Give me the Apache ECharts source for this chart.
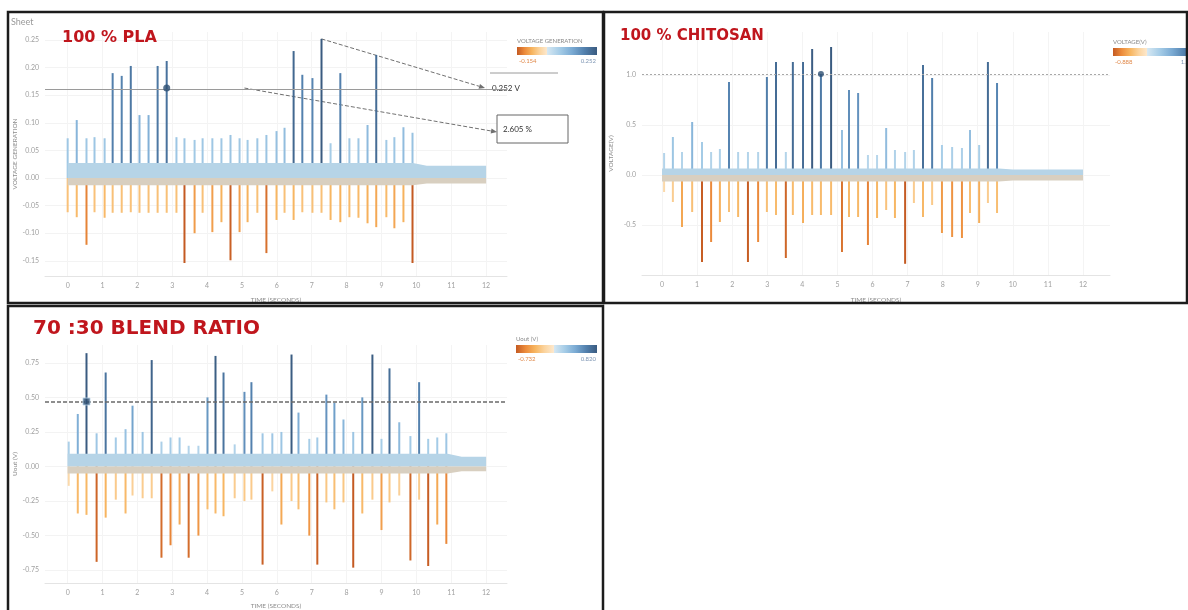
<!DOCTYPE html>
<html>
<head>
<meta charset="utf-8">
<script src="https://cdn.jsdelivr.net/npm/echarts@6/dist/echarts.min.js"></script>
<style>
  html, body { margin: 0; padding: 0; background: #ffffff; }
  #c { width: 1188px; height: 610px; }
</style>
</head>
<body>
<div id="c"></div>
<script>
// ---- shared axis ticks ----
const timeTicks = [0, 1, 2, 3, 4, 5, 6, 7, 8, 9, 10, 11, 12];

// ---- 100 % PLA : voltage pulses (V) ----
const plaTime = [0.00, 0.26, 0.54, 0.77, 1.06, 1.29, 1.55, 1.81, 2.06, 2.32, 2.58, 2.84, 3.12, 3.35, 3.64, 3.87, 4.15, 4.41, 4.67, 4.93,
                 5.16, 5.44, 5.70, 5.99, 6.22, 6.48, 6.73, 7.02, 7.28, 7.54, 7.82, 8.08, 8.34, 8.60, 8.85, 9.14, 9.37, 9.63, 9.89];
const plaPeak = [0.072, 0.105, 0.072, 0.074, 0.072, 0.190, 0.185, 0.203, 0.114, 0.114, 0.203, 0.212, 0.074, 0.072, 0.069, 0.072, 0.072, 0.072, 0.078, 0.072,
                 0.069, 0.072, 0.078, 0.085, 0.091, 0.230, 0.187, 0.181, 0.252, 0.063, 0.190, 0.072, 0.072, 0.096, 0.223, 0.069, 0.074, 0.092, 0.082];
const plaTrough = [-0.062, -0.071, -0.121, -0.062, -0.072, -0.063, -0.063, -0.062, -0.063, -0.063, -0.063, -0.063, -0.063, -0.154, -0.100, -0.063, -0.098, -0.080, -0.149, -0.098,
                   -0.080, -0.063, -0.136, -0.076, -0.063, -0.076, -0.062, -0.063, -0.063, -0.076, -0.080, -0.071, -0.072, -0.082, -0.089, -0.071, -0.091, -0.080, -0.154];
const plaBandTime = [0, 9.9, 10.3, 12];
const plaBandHigh = [0.027, 0.027, 0.022, 0.022];
const plaBandLow = [-0.013, -0.013, -0.010, -0.010];
const plaRef = 0.163;
const plaYTicks = [-0.15, -0.10, -0.05, 0.00, 0.05, 0.10, 0.15, 0.20, 0.25];
const plaNotes = ['0.252 V', '2.605 %'];

// ---- 100 % CHITOSAN ----
const chiTime = [0.06, 0.31, 0.57, 0.86, 1.14, 1.40, 1.65, 1.91, 2.17, 2.45, 2.74, 2.99, 3.25, 3.53, 3.73, 4.02, 4.28, 4.53, 4.82,
                 5.13, 5.33, 5.59, 5.87, 6.13, 6.39, 6.64, 6.93, 7.18, 7.44, 7.70, 7.98, 8.27, 8.55, 8.78, 9.04, 9.29, 9.55];
const chiPeak = [0.22, 0.38, 0.23, 0.53, 0.33, 0.23, 0.26, 0.93, 0.23, 0.23, 0.23, 0.98, 1.13, 0.23, 1.13, 1.13, 1.26, 1.01, 1.28,
                 0.45, 0.85, 0.82, 0.20, 0.20, 0.47, 0.25, 0.23, 0.25, 1.10, 0.97, 0.30, 0.28, 0.27, 0.45, 0.30, 1.13, 0.92];
const chiTrough = [-0.17, -0.27, -0.52, -0.37, -0.87, -0.67, -0.47, -0.37, -0.42, -0.87, -0.67, -0.37, -0.40, -0.83, -0.40, -0.48, -0.40, -0.40, -0.40,
                   -0.77, -0.42, -0.42, -0.70, -0.43, -0.35, -0.43, -0.888, -0.28, -0.42, -0.30, -0.58, -0.62, -0.63, -0.38, -0.48, -0.28, -0.38];
const chiBandTime = [0, 9.6, 10.0, 12];
const chiBandHigh = [0.065, 0.065, 0.055, 0.055];
const chiBandLow = [-0.065, -0.065, -0.055, -0.055];
const chiRef = 1.01;
const chiYTicks = [-0.5, 0.0, 0.5, 1.0];

// ---- 70 : 30 blend ----
const blendTime = [0.03, 0.29, 0.54, 0.83, 1.09, 1.38, 1.66, 1.86, 2.15, 2.41, 2.69, 2.95, 3.21, 3.47, 3.75, 4.01, 4.24, 4.47, 4.79, 5.07, 5.27,
                   5.59, 5.87, 6.13, 6.42, 6.62, 6.93, 7.16, 7.42, 7.65, 7.91, 8.19, 8.45, 8.74, 9.00, 9.23, 9.51, 9.83, 10.08, 10.34, 10.60, 10.86];
const blendPeak = [0.18, 0.38, 0.82, 0.24, 0.68, 0.21, 0.27, 0.44, 0.25, 0.77, 0.18, 0.21, 0.21, 0.15, 0.15, 0.50, 0.80, 0.68, 0.16, 0.54, 0.61,
                   0.24, 0.24, 0.25, 0.81, 0.39, 0.20, 0.21, 0.52, 0.46, 0.34, 0.25, 0.50, 0.81, 0.20, 0.71, 0.32, 0.22, 0.61, 0.20, 0.21, 0.24];
const blendTrough = [-0.14, -0.34, -0.35, -0.69, -0.37, -0.24, -0.34, -0.21, -0.23, -0.23, -0.66, -0.57, -0.42, -0.66, -0.50, -0.31, -0.34, -0.36, -0.23, -0.25, -0.24,
                     -0.71, -0.18, -0.42, -0.25, -0.31, -0.50, -0.71, -0.26, -0.31, -0.26, -0.732, -0.34, -0.24, -0.46, -0.26, -0.21, -0.68, -0.24, -0.72, -0.42, -0.56];
const blendBandTime = [0, 10.9, 11.3, 12];
const blendBandHigh = [0.093, 0.093, 0.07, 0.07];
const blendBandLow = [-0.05, -0.05, -0.035, -0.035];
const blendRef = 0.47;
const blendYTicks = [-0.75, -0.50, -0.25, 0.00, 0.25, 0.50, 0.75];

// ---- colours (orange-blue diverging, centred on zero) ----
const BLUE = ['#d5e7f2', '#a5cce7', '#7aaad3', '#5280ad', '#3a5b80'];
const ORANGE = ['#c45a22', '#ec8b3b', '#f7b560', '#fbd49f', '#fde9cf'];
const BAND_HI = '#b6d4e7';
const BAND_LO = '#d8cfc0';
const MARK = '#2d4f73';
const FONT = 'Lato, "Open Sans", sans-serif';
const TITLE_FONT = '"DejaVu Sans", "Liberation Sans", sans-serif';

const zip = (a, b) => a.map((v, i) => [v, b[i]]);
const minOf = a => Math.min.apply(null, a);
const maxOf = a => Math.max.apply(null, a);

const panels = [
  { time: plaTime, peak: plaPeak, trough: plaTrough, bandT: plaBandTime, bandH: plaBandHigh, bandL: plaBandLow,
    ref: plaRef, refIdx: 11, yTicks: plaYTicks, dec: 2, markSymbol: 'circle', markSize: 7,
    refStyle: { color: '#9a9a9a', type: 'solid', width: 1 },
    grid: { left: 45, top: 32, width: 462, height: 244 }, x: [-0.65, 12.6], y: [-0.1775, 0.2645],
    yName: 'VOLTAGE GENERATION', yNameGap: 27 , xNameGap: 20 },
  { time: chiTime, peak: chiPeak, trough: chiTrough, bandT: chiBandTime, bandH: chiBandHigh, bandL: chiBandLow,
    ref: chiRef, refIdx: 17, yTicks: chiYTicks, dec: 1, markSymbol: 'circle', markSize: 6,
    refStyle: { color: '#a8a8a8', type: [2, 2], width: 1 },
    grid: { left: 642, top: 32, width: 468, height: 243 }, x: [-0.57, 12.77], y: [-1.0, 1.43],
    yName: 'VOLTAGE(V)', yNameGap: 28, xNameGap: 21 },
  { time: blendTime, peak: blendPeak, trough: blendTrough, bandT: blendBandTime, bandH: blendBandHigh, bandL: blendBandLow,
    ref: blendRef, refIdx: 2, yTicks: blendYTicks, dec: 2, markSymbol: 'rect', markSize: 7,
    refStyle: { color: '#6a6a6a', type: [4, 2], width: 1.5 },
    grid: { left: 45, top: 345, width: 462, height: 241 }, x: [-0.65, 12.6], y: [-0.843, 0.879],
    yName: 'Uout (V)', yNameGap: 27, xNameGap: 19 }
];

const grid = [], xAxis = [], yAxis = [], series = [], visualMap = [];
panels.forEach((p, k) => {
  grid.push(Object.assign({ containLabel: false }, p.grid));
  xAxis.push({
    type: 'value', gridIndex: k, min: p.x[0], max: p.x[1],
    name: 'TIME (SECONDS)', nameLocation: 'middle', nameGap: p.xNameGap,
    nameTextStyle: { fontSize: 6.5, color: '#8c8c8c', fontFamily: FONT },
    axisLine: { show: true, onZero: false, lineStyle: { color: '#e4e4e4' } },
    axisTick: { show: false, customValues: timeTicks },
    axisLabel: { customValues: timeTicks, fontSize: 7, color: '#a0a0a0', margin: 6, fontFamily: FONT },
    splitLine: { show: true, lineStyle: { color: '#f4f4f4' } }
  });
  yAxis.push({
    type: 'value', gridIndex: k, min: p.y[0], max: p.y[1],
    name: p.yName, nameLocation: 'middle', nameGap: p.yNameGap, nameRotate: 90,
    nameTextStyle: { fontSize: 6.5, color: '#8c8c8c', fontFamily: FONT },
    axisLine: { show: false },
    axisTick: { show: false, customValues: p.yTicks },
    axisLabel: { customValues: p.yTicks, fontSize: 7, color: '#a0a0a0', margin: 6, fontFamily: FONT,
                 formatter: v => v.toFixed(p.dec) },
    splitLine: { show: true, lineStyle: { color: '#f3f3f3' } }
  });

  const base = series.length;
  series.push({
    type: 'bar', xAxisIndex: k, yAxisIndex: k, stack: 'pulse' + k, barWidth: 2, z: 2,
    data: zip(p.time, p.peak), silent: true
  });
  series.push({
    type: 'bar', xAxisIndex: k, yAxisIndex: k, stack: 'pulse' + k, barWidth: 2, z: 2,
    data: zip(p.time, p.trough), silent: true
  });
  series.push({
    type: 'line', xAxisIndex: k, yAxisIndex: k, data: zip(p.bandT, p.bandH), showSymbol: false, silent: true, z: 3,
    lineStyle: { width: 0 }, areaStyle: { color: BAND_HI, opacity: 1 }
  });
  series.push({
    type: 'line', xAxisIndex: k, yAxisIndex: k, data: zip(p.bandT, p.bandL), showSymbol: false, silent: true, z: 3,
    lineStyle: { width: 0 }, areaStyle: { color: BAND_LO, opacity: 1 }
  });
  series.push({
    type: 'scatter', xAxisIndex: k, yAxisIndex: k, z: 5, silent: true,
    symbol: p.markSymbol, symbolSize: p.markSize,
    itemStyle: { color: MARK, borderColor: k === 2 ? '#b9d5ea' : MARK, borderWidth: k === 2 ? 1 : 0 },
    data: [[p.time[p.refIdx], p.ref]],
    markLine: { silent: true, symbol: 'none', label: { show: false }, lineStyle: p.refStyle, data: [{ yAxis: p.ref }] }
  });

  p.lo = minOf(p.trough);
  p.hi = maxOf(p.peak);
  visualMap.push({ type: 'continuous', show: false, seriesIndex: base, dimension: 1, min: 0, max: p.hi, inRange: { color: BLUE } });
  visualMap.push({ type: 'continuous', show: false, seriesIndex: base + 1, dimension: 1, min: p.lo, max: 0, inRange: { color: ORANGE.slice() } });
});

const chart = echarts.init(document.getElementById('c'));
chart.setOption({ animation: false, grid, xAxis, yAxis, series, visualMap });

// ---- frames, titles, legends and notes ----
function legend(p, x, y, w, title) {
  const z = -p.lo / (p.hi - p.lo);
  const stops = [];
  ORANGE.forEach((c, i) => stops.push({ offset: z * i / (ORANGE.length - 1), color: c }));
  BLUE.forEach((c, i) => stops.push({ offset: z + (1 - z) * i / (BLUE.length - 1), color: c }));
  const f = { fontSize: 6, fill: '#8a8a8a', fontFamily: FONT };
  return [
    { type: 'text', left: x, top: y - 9, style: Object.assign({ text: title }, f) },
    { type: 'rect', shape: { x: x, y: y, width: w, height: 8 },
      style: { fill: new echarts.graphic.LinearGradient(0, 0, 1, 0, stops) } },
    { type: 'text', x: x + 2, y: y + 14, style: Object.assign({ text: p.lo.toFixed(3), textAlign: 'left', textVerticalAlign: 'middle' }, f, { fill: '#e0894a' }) },
    { type: 'text', x: x + w - 1, y: y + 14, style: Object.assign({ text: p.hi.toFixed(3), textAlign: 'right', textVerticalAlign: 'middle' }, f, { fill: '#7d95b3' }) }
  ];
}

function arrow(from, to) {
  const ang = Math.atan2(to[1] - from[1], to[0] - from[0]);
  const L = 6, W = 2.5;
  const bx = to[0] - L * Math.cos(ang), by = to[1] - L * Math.sin(ang);
  return [
    { type: 'line', shape: { x1: from[0], y1: from[1], x2: bx, y2: by },
      style: { stroke: '#707070', lineWidth: 1, lineDash: [4, 2] } },
    { type: 'polygon', shape: { points: [to, [bx - W * Math.sin(ang), by + W * Math.cos(ang)], [bx + W * Math.sin(ang), by - W * Math.cos(ang)]] },
      style: { fill: '#707070' } }
  ];
}

const pla = panels[0];
const peakIdx = pla.peak.indexOf(pla.hi);
const peakPx = chart.convertToPixel({ gridIndex: 0 }, [pla.time[peakIdx], pla.hi]);
const refPx = chart.convertToPixel({ gridIndex: 0 }, [5.07, pla.ref]);

const frame = { stroke: '#1c1c1c', lineWidth: 2.5, fill: null };
const titleStyle = { fill: '#c0161d', fontWeight: 'bold', fontFamily: TITLE_FONT, textVerticalAlign: 'middle' };

const graphic = [
  { type: 'rect', shape: { x: 8, y: 12, width: 595, height: 291 }, style: frame, z: 10 },
  { type: 'rect', shape: { x: 604, y: 12, width: 583, height: 291 }, style: frame, z: 10 },
  { type: 'rect', shape: { x: 8, y: 306, width: 595, height: 312 }, style: frame, z: 10 },
  { type: 'text', x: 11, y: 22, style: { text: 'Sheet', fontSize: 9, fill: '#9a9a9a', fontFamily: FONT, textVerticalAlign: 'middle' } },
  { type: 'text', x: 62, y: 38, style: Object.assign({ text: '100 % PLA', fontSize: 16 }, titleStyle) },
  { type: 'text', x: 620, y: 36, style: Object.assign({ text: '100 % CHITOSAN', fontSize: 15 }, titleStyle) },
  { type: 'text', x: 33, y: 329, style: Object.assign({ text: '70 :30 BLEND RATIO', fontSize: 20 }, titleStyle) }
]
  .concat(legend(panels[0], 517, 47, 80, 'VOLTAGE GENERATION'))
  .concat(legend(panels[1], 1113, 48, 84, 'VOLTAGE(V)'))
  .concat(legend(panels[2], 516, 345, 81, 'Uout (V)'))
  .concat(arrow(peakPx, [485, refPx[1]]))
  .concat(arrow(refPx, [497, 132]))
  .concat([
    { type: 'line', shape: { x1: 490, y1: 73, x2: 558, y2: 73 }, style: { stroke: '#9a9a9a', lineWidth: 1 } },
    { type: 'text', x: 492, y: refPx[1], style: { text: plaNotes[0], fontSize: 8, fill: '#333', fontFamily: FONT, textVerticalAlign: 'middle' } },
    { type: 'rect', shape: { x: 497, y: 115, width: 71, height: 28 }, style: { fill: '#fff', stroke: '#666', lineWidth: 1 } },
    { type: 'text', x: 503, y: 129, style: { text: plaNotes[1], fontSize: 8, fill: '#333', fontFamily: FONT, textVerticalAlign: 'middle' } }
  ]);

chart.setOption({ graphic });
</script>
</body>
</html>
